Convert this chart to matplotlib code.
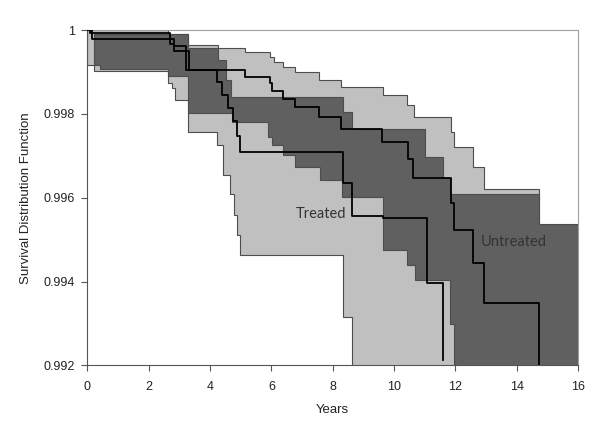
import matplotlib.pyplot as plt
import numpy as np

# Survival curves (step functions: time in years, survival value)
untreated_t = [0, 0.08, 2.69, 2.82, 3.30, 5.14, 5.95, 6.02, 6.38, 6.77, 7.55, 8.27,
               9.61, 10.46, 10.62, 11.86, 11.96, 12.58, 12.94, 14.73]
untreated_s = [1.0, 0.99993, 0.99967, 0.99949, 0.99904, 0.99889, 0.99873, 0.99855,
               0.99836, 0.99816, 0.99793, 0.99765, 0.99733, 0.99692, 0.99647,
               0.99587, 0.99522, 0.99444, 0.99348, 0.9918]

treated_t = [0, 0.15, 2.82, 3.21, 4.23, 4.39, 4.58, 4.75, 4.88, 4.98, 8.33, 8.63,
             9.64, 11.08, 11.60]
treated_s = [1.0, 0.99979, 0.99962, 0.99904, 0.99876, 0.99845, 0.99814, 0.99783,
             0.99747, 0.99709, 0.99635, 0.99556, 0.99551, 0.99396, 0.99212]

# Outer (light) confidence region
light_up_t = [0, 2.63, 3.28, 4.26, 5.14, 5.95, 6.07, 6.38, 6.77, 7.55, 8.27, 9.64,
              10.42, 10.65, 11.87, 11.96, 12.58, 12.93]
light_up_s = [1.0, 0.99990, 0.99964, 0.99956, 0.99947, 0.99936, 0.99923, 0.99912,
              0.99899, 0.99881, 0.99865, 0.99845, 0.99821, 0.99792, 0.99757,
              0.99721, 0.99674, 0.99622]
light_lo_t = [0, 0.21, 2.63, 2.75, 2.85, 3.28, 4.23, 4.42, 4.65, 4.78, 4.89, 4.98,
              8.33, 8.62]
light_lo_s = [0.99916, 0.99902, 0.99873, 0.99861, 0.99833, 0.99757, 0.99725,
              0.99654, 0.99610, 0.99560, 0.99512, 0.99463, 0.99315, 0.9918]
light_end = 14.73

# Inner (dark) confidence region
dark_up_t = [0.21, 3.28, 4.26, 4.52, 4.68, 8.34, 8.63, 11.01, 11.60, 11.83, 14.73]
dark_up_s = [0.99990, 0.99957, 0.99928, 0.99881, 0.99841, 0.99805, 0.99765,
             0.99697, 0.99646, 0.99610, 0.99538]
dark_lo_t = [0.21, 0.41, 2.63, 3.28, 4.71, 5.89, 6.02, 6.38, 6.77, 7.59, 8.30,
             9.64, 10.42, 10.69, 11.83, 11.96]
dark_lo_s = [0.99916, 0.99906, 0.99890, 0.99801, 0.99780, 0.99745, 0.99725,
             0.99701, 0.99674, 0.99642, 0.99602, 0.99475, 0.99439, 0.99403,
             0.99300, 0.9918]
dark_end = 16


def stair(t, s, t_end):
    xs, ys = [], []
    for i in range(len(t)):
        x1 = t[i + 1] if i + 1 < len(t) else t_end
        xs += [t[i], x1]
        ys += [s[i], s[i]]
    return xs, ys


def band(ax, up_t, up_s, lo_t, lo_s, t_end, color):
    ux, uy = stair(up_t, up_s, t_end)
    lx, ly = stair(lo_t, lo_s, t_end)
    ax.fill(ux + lx[::-1], uy + ly[::-1], facecolor=color,
            edgecolor="#4d4d4d", linewidth=0.8, zorder=2)


fig = plt.figure(figsize=(6.0, 4.23), dpi=100)
ax = fig.add_axes([0.1458, 0.136, 0.8175, 0.793])

band(ax, light_up_t, light_up_s, light_lo_t, light_lo_s, light_end, "#c0c0c0")
band(ax, dark_up_t, dark_up_s, dark_lo_t, dark_lo_s, dark_end, "#606060")

ax.step(treated_t, treated_s, where="post", color="black", lw=1.3, zorder=3)
ax.step(untreated_t, untreated_s, where="post", color="black", lw=1.3, zorder=3)

ax.text(7.63, 0.99561, "Treated", family="Lato", fontsize=10.5, color="#333333",
        ha="center", va="center", zorder=4)
ax.text(13.92, 0.99495, "Untreated", family="Lato", fontsize=10.5, color="#333333",
        ha="center", va="center", zorder=4)

ax.set_xlim(0, 16)
ax.set_ylim(0.992, 1.0)
ax.set_xticks(np.arange(0, 17, 2))
ax.set_yticks([0.992, 0.994, 0.996, 0.998, 1.0])
ax.set_yticklabels(["0.992", "0.994", "0.996", "0.998", "1"])

for side in ["left", "bottom"]:
    ax.spines[side].set_color("#555555")
for side in ["top", "right"]:
    ax.spines[side].set_color("#a0a0a0")
ax.tick_params(direction="out", length=4, color="#555555", labelsize=9,
               labelcolor="#222222")
ax.tick_params(axis="x", pad=7)
ax.tick_params(axis="y", pad=5)
for lab in ax.get_xticklabels() + ax.get_yticklabels():
    lab.set_family("Liberation Sans")

ax.set_xlabel("Years", family="Liberation Sans", fontsize=9.5, color="#222222",
              labelpad=8)
ax.set_ylabel("Survival Distribution Function", family="Liberation Sans",
              fontsize=9.5, color="#222222", labelpad=8)

fig.savefig("out.png", dpi=100)
